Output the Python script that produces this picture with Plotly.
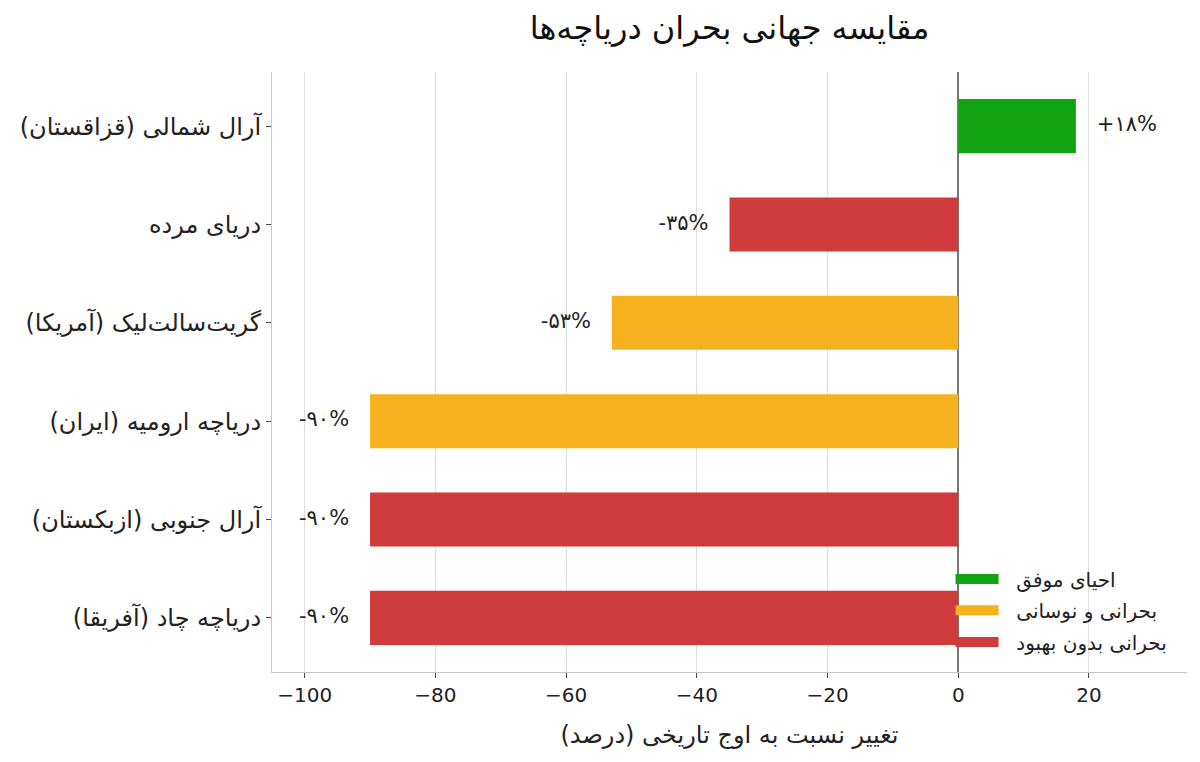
import plotly.graph_objects as go

# lake data, top to bottom as in the chart
lakes = [
    "آرال شمالی (قزاقستان)",
    "دریای مرده",
    "گریت‌سالت‌لیک (آمریکا)",
    "دریاچه ارومیه (ایران)",
    "آرال جنوبی (ازبکستان)",
    "دریاچه چاد (آفریقا)",
]
change_pct = [18, -35, -53, -90, -90, -90]
value_labels = ["+۱۸%", "-۳۵%", "-۵۳%", "-۹۰%", "-۹۰%", "-۹۰%"]
status = ["recovered", "critical", "fluctuating", "fluctuating", "critical", "critical"]

status_order = ["recovered", "fluctuating", "critical"]
status_names = {
    "recovered": "احیای موفق",
    "fluctuating": "بحرانی و نوسانی",
    "critical": "بحرانی بدون بهبود",
}
status_colors = {
    "recovered": "#12a312",
    "fluctuating": "#f5b11e",
    "critical": "#cf3b3b",
}

RLM = "\u200f"
lake_labels = [name + RLM for name in lakes]
FONT = "DejaVu Sans"

fig = go.Figure()

legend_ids = ["legend", "legend2", "legend3"]
for key, leg in zip(status_order, legend_ids):
    idx = [i for i, s in enumerate(status) if s == key]
    fig.add_trace(
        go.Bar(
            x=[change_pct[i] for i in idx],
            y=[lake_labels[i] for i in idx],
            orientation="h",
            width=0.55,
            marker=dict(color=status_colors[key], line=dict(width=0)),
            showlegend=False,
            hoverinfo="skip",
        )
    )
    # legend entry drawn as a thick line so it looks like a wide swatch
    fig.add_trace(
        go.Scatter(
            x=[None],
            y=[None],
            mode="lines",
            line=dict(color=status_colors[key], width=16),
            name="\u00a0\u00a0" + status_names[key],
            legend=leg,
        )
    )

# value labels just past the end of each bar
offset = 3.2
fig.add_trace(
    go.Scatter(
        x=[v + offset if v > 0 else v - offset for v in change_pct],
        y=lake_labels,
        mode="text",
        text=value_labels,
        textposition=["middle right" if v > 0 else "middle left" for v in change_pct],
        textfont=dict(family=FONT, size=21, color="#222"),
        showlegend=False,
        hoverinfo="skip",
    )
)

legend_style = dict(
    x=0.7416,
    xanchor="left",
    yanchor="middle",
    bgcolor="rgba(255,255,255,0)",
    font=dict(family=FONT, size=20, color="#222"),
    itemwidth=43,
)

fig.update_layout(
    width=1200,
    height=762,
    paper_bgcolor="white",
    plot_bgcolor="white",
    barmode="overlay",
    font=dict(family=FONT, color="#222"),
    margin=dict(l=262, r=21, t=64, b=98),
    title=dict(
        text="مقایسه جهانی بحران دریاچه‌ها",
        x=0.5,
        xref="paper",
        xanchor="center",
        y=0.974,
        yanchor="middle",
        font=dict(family=FONT, size=32, color="#111"),
    ),
    legend=dict(y=0.155, **legend_style),
    legend2=dict(y=0.103, **legend_style),
    legend3=dict(y=0.05, **legend_style),
)

fig.update_xaxes(
    range=[-105, 35],
    tickvals=[-100, -80, -60, -40, -20, 0, 20],
    tickfont=dict(family=FONT, size=20, color="#222"),
    showgrid=True,
    gridcolor="#dedede",
    gridwidth=1,
    zeroline=True,
    zerolinecolor="#777",
    zerolinewidth=1.5,
    showline=True,
    linecolor="#c8c8c8",
    linewidth=1.2,
    ticks="outside",
    ticklen=5,
    tickcolor="#444",
    title=dict(
        text="تغییر نسبت به اوج تاریخی (درصد)" + RLM,
        font=dict(family=FONT, size=24, color="#222"),
        standoff=20,
    ),
)

fig.update_yaxes(
    categoryorder="array",
    categoryarray=lake_labels[::-1],
    range=[-0.55, 5.55],
    tickfont=dict(family=FONT, size=24, color="#222"),
    showgrid=False,
    showline=True,
    linecolor="#c8c8c8",
    linewidth=1.2,
    ticks="outside",
    ticklen=5,
    tickcolor="#444",
)

fig.write_html("out.html")
